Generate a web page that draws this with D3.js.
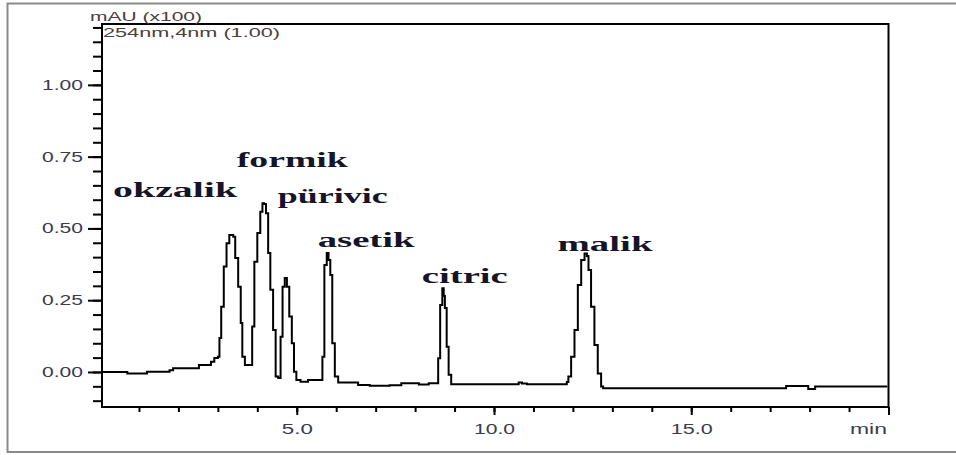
<!DOCTYPE html>
<html>
<head>
<meta charset="utf-8">
<script src="https://cdn.jsdelivr.net/npm/d3@7"></script>
<style>
  html, body { margin: 0; padding: 0; background: #fff; }
  svg { display: block; }
</style>
</head>
<body>
<script>
// ---- DATA ----
// Retention time (min) and absorbance (mAU x100)
const time = [
  0.06, 0.70, 0.71, 1.20, 1.21, 1.71, 1.84, 1.89, 2.49, 2.55, 2.80, 2.85, 2.97, 3.03,
  3.05, 3.12, 3.18, 3.26, 3.32, 3.37, 3.41, 3.47, 3.56, 3.60, 3.64, 3.73, 3.85,
  3.89, 3.96, 4.04, 4.11, 4.15, 4.19, 4.25, 4.30, 4.36, 4.44, 4.49, 4.57,
  4.61, 4.67, 4.72, 4.78, 4.84, 4.91, 4.95, 5.03, 5.16, 5.41, 5.63,
  5.67, 5.73, 5.79, 5.82, 5.88, 5.92, 6.01, 6.09, 6.51, 6.60, 7.10, 7.61, 7.69,
  8.07, 8.12, 8.32, 8.37, 8.57, 8.60, 8.67, 8.71, 8.74, 8.77, 8.83, 8.87, 8.96,
  10.60, 10.65, 10.77, 10.90, 11.83, 11.86, 11.91, 12.00, 12.08, 12.17, 12.25,
  12.34, 12.37, 12.42, 12.50, 12.59, 12.67, 12.76, 12.77, 17.40, 17.41, 17.94,
  17.99, 18.12, 18.16, 19.97
];
const absorbance = [
  0.000, 0.000, -0.005, -0.005, 0.001, 0.001, 0.006, 0.013, 0.013, 0.024, 0.024, 0.036, 0.049, 0.053,
  0.118, 0.227, 0.367, 0.448, 0.477, 0.477, 0.471, 0.397, 0.297, 0.171, 0.053, 0.024, 0.024,
  0.158, 0.384, 0.484, 0.558, 0.588, 0.585, 0.553, 0.414, 0.286, 0.146, -0.016, -0.021,
  0.123, 0.297, 0.327, 0.297, 0.193, 0.100, 0.001, -0.028, -0.034, -0.028, -0.028,
  0.053, 0.373, 0.414, 0.390, 0.338, 0.100, -0.016, -0.037, -0.037, -0.045, -0.048, -0.046, -0.039,
  -0.039, -0.044, -0.044, -0.039, -0.039, 0.048, 0.233, 0.292, 0.265, 0.223, 0.088, -0.010, -0.043,
  -0.043, -0.037, -0.040, -0.043, -0.043, -0.035, -0.016, 0.053, 0.146, 0.303, 0.390,
  0.413, 0.404, 0.355, 0.227, 0.094, -0.005, -0.051, -0.057, -0.057, -0.049, -0.049,
  -0.059, -0.059, -0.051, -0.051
];
const peakNames = ["okzalik", "formik", "pürivic", "asetik", "citric", "malik"];
const yTickValues = [0.00, 0.25, 0.50, 0.75, 1.00];
const yTickLabels = ["0.00", "0.25", "0.50", "0.75", "1.00"];
const xTickValues = [5, 10, 15, 20];
const xTickLabels = ["5.0", "10.0", "15.0", "min"];
const yUnitLabel = "mAU (x100)";
const channelLabel = "254nm,4nm (1.00)";

// ---- LAYOUT ----
const W = 956, H = 455;
const svg = d3.select("body").append("svg").attr("width", W).attr("height", H);

const x = d3.scaleLinear().domain([0.063, 20]).range([102, 888.5]);
const y = d3.scaleLinear().domain([-0.122, 1.212]).range([407, 24]);

// outer gray frame (open on the right)
svg.append("path")
  .attr("d", `M${W},3.5 H7.5 V452 H${W}`)
  .attr("fill", "none").attr("stroke", "#8a8a8a").attr("stroke-width", 2);

// plot frame
svg.append("rect")
  .attr("x", x.range()[0]).attr("y", y.range()[1])
  .attr("width", x.range()[1] - x.range()[0])
  .attr("height", y.range()[0] - y.range()[1])
  .attr("fill", "none").attr("stroke", "#000").attr("stroke-width", 2);

// Y axis ticks
const yMinor = d3.range(-0.10, 1.2001, 0.05).map(v => +v.toFixed(2));
const yAxisMinor = d3.axisLeft(y).tickValues(yMinor).tickSize(9).tickFormat("");
const gyMin = svg.append("g").attr("transform", `translate(${x.range()[0]},0)`).call(yAxisMinor);
const yAxisMajor = d3.axisLeft(y).tickValues(yTickValues).tickSize(14).tickPadding(5)
  .tickFormat((d, i) => yTickLabels[i]);
const gy = svg.append("g").attr("transform", `translate(${x.range()[0]},0)`).call(yAxisMajor);
[gyMin, gy].forEach(g => {
  g.select(".domain").remove();
  g.selectAll("line").attr("stroke", "#000").attr("stroke-width", 2);
});
gy.selectAll("text")
  .attr("font-family", "Liberation Sans, Arial, sans-serif")
  .attr("font-size", 14).attr("fill", "#3b3b4f")
  .attr("textLength", 41).attr("lengthAdjust", "spacingAndGlyphs");

// X axis ticks
const xMinor = d3.range(1, 20, 1);
const xAxisMinor = d3.axisBottom(x).tickValues(xMinor).tickSize(5).tickFormat("");
const gxMin = svg.append("g").attr("transform", `translate(0,${y.range()[0]})`).call(xAxisMinor);
const xAxisMajor = d3.axisBottom(x).tickValues(xTickValues).tickSize(8).tickPadding(9)
  .tickFormat((d, i) => xTickLabels[i]);
const gx = svg.append("g").attr("transform", `translate(0,${y.range()[0]})`).call(xAxisMajor);
[gxMin, gx].forEach(g => {
  g.select(".domain").remove();
  g.selectAll("line").attr("stroke", "#000").attr("stroke-width", 2);
});
gx.selectAll("text")
  .attr("font-family", "Liberation Sans, Arial, sans-serif")
  .attr("font-size", 14).attr("fill", "#3b3b4f")
  .attr("lengthAdjust", "spacingAndGlyphs")
  .attr("textLength", (d, i) => [31, 41, 42, 37][i])
  .attr("text-anchor", (d, i) => i === 3 ? "end" : "middle")
  .attr("dx", (d, i) => i === 3 ? -2 : 0);

// header texts
svg.append("text").text(yUnitLabel)
  .attr("x", 90).attr("y", 20.5)
  .attr("font-family", "Liberation Sans, Arial, sans-serif").attr("font-size", 12)
  .attr("fill", "#4a4040")
  .attr("textLength", 112).attr("lengthAdjust", "spacingAndGlyphs");
svg.append("text").text(channelLabel)
  .attr("x", 103).attr("y", 36.5)
  .attr("font-family", "Liberation Sans, Arial, sans-serif").attr("font-size", 12)
  .attr("fill", "#4a4040")
  .attr("textLength", 177).attr("lengthAdjust", "spacingAndGlyphs");

// chromatogram trace
const pts = time.map((t, i) => [t, absorbance[i]]);
const line = d3.line().x(d => x(d[0])).y(d => y(d[1])).curve(d3.curveStep);
svg.append("path").datum(pts)
  .attr("d", line)
  .attr("fill", "none").attr("stroke", "#000").attr("stroke-width", 2)
  .attr("stroke-linejoin", "miter");

// peak labels (anchor in data units: time, absorbance)
const labelAnchor = {
  "okzalik": [0.344, 0.610, 124],
  "formik":  [3.48, 0.714, 111],
  "pürivic": [4.52, 0.589, 110],
  "asetik":  [5.53, 0.435, 97],
  "citric":  [8.17, 0.310, 86],
  "malik":   [11.61, 0.421, 95]
};
svg.append("g").selectAll("text").data(peakNames).join("text")
  .text(d => d)
  .attr("x", d => x(labelAnchor[d][0]))
  .attr("y", d => y(labelAnchor[d][1]))
  .attr("textLength", d => labelAnchor[d][2])
  .attr("lengthAdjust", "spacingAndGlyphs")
  .attr("font-family", "Liberation Serif, Times New Roman, serif")
  .attr("font-weight", "bold").attr("font-size", 22)
  .attr("fill", "#15152a");
</script>
</body>
</html>
